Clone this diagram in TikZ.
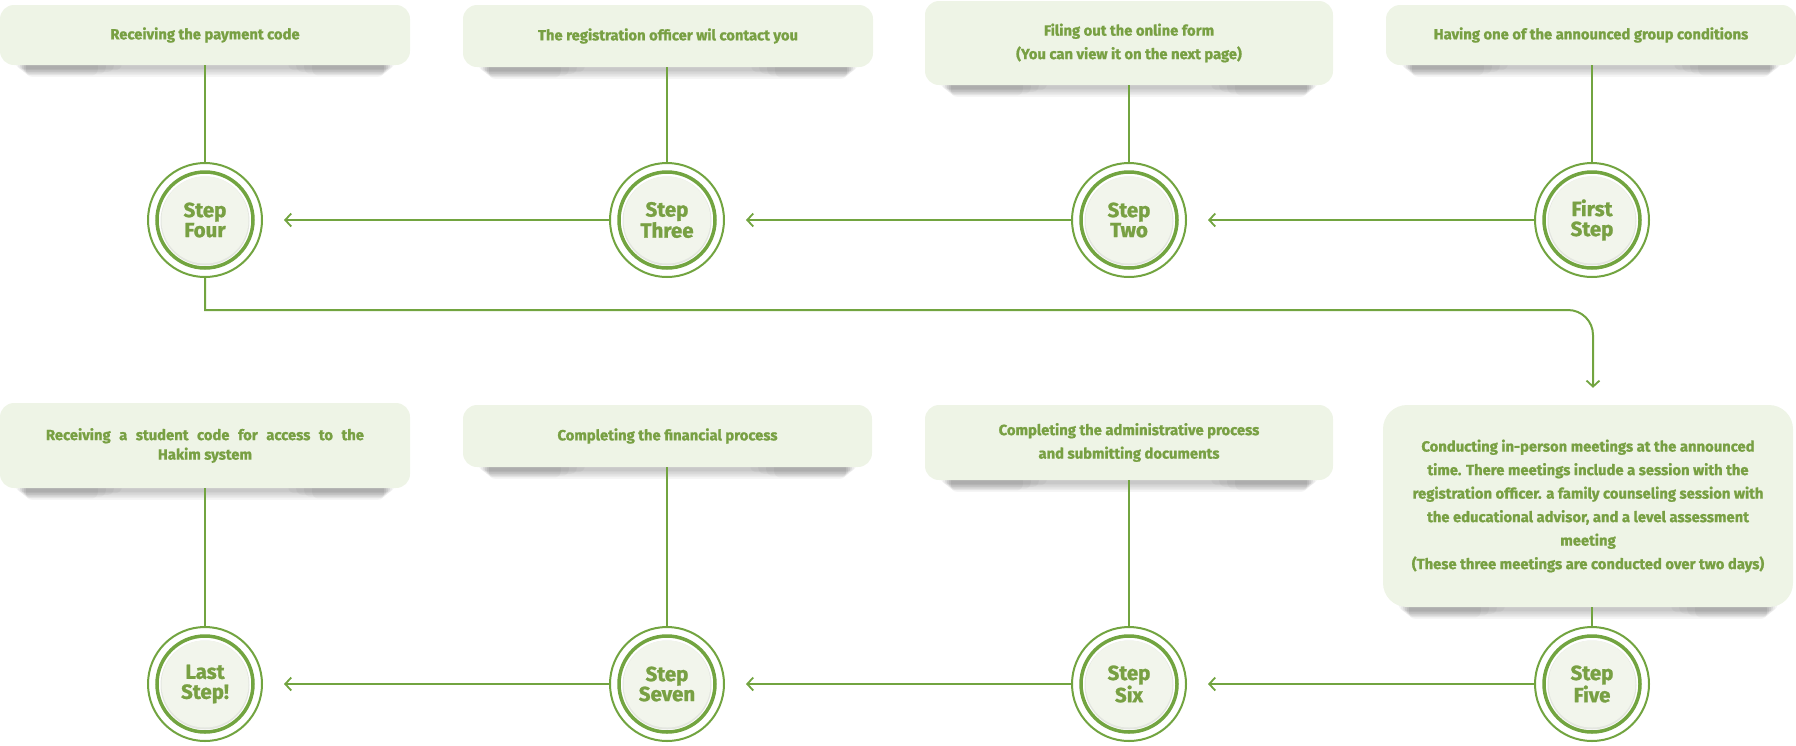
\documentclass[tikz,border=0pt]{standalone}
\usepackage{fontspec}
\setmainfont{Fira Sans}[BoldFeatures={FakeBold=1.2}]
\usetikzlibrary{arrows.meta,calc}
\definecolor{gstroke}{HTML}{72A440}
\definecolor{gtext}{HTML}{78A043}
\definecolor{boxfill}{HTML}{EEF4E6}
\definecolor{circfill}{HTML}{F2F5EC}
\definecolor{circshade}{HTML}{E4E6E0}
\pgfdeclarelayer{bg}
\pgfsetlayers{bg,main}
\newcommand\boxshade[1]{%
  \foreach \k in {1,...,6}{%
    \fill[black, opacity=0.04, rounded corners=6pt]
      ($(#1.south west)+(14+2*\k,-14)$) rectangle ($(#1.south east)+(-14-2*\k,2+1.6*\k)$);
  }%
  \foreach \k in {1,...,4}{%
    \fill[black, opacity=0.035, rounded corners=6pt]
      ($(#1.south west)+(18+2*\k,-14)$) rectangle ($(#1.south west)+(130-8*\k,3+1.8*\k)$);
    \fill[black, opacity=0.035, rounded corners=6pt]
      ($(#1.south east)+(-18-2*\k,-14)$) rectangle ($(#1.south east)+(-130+8*\k,3+1.8*\k)$);
  }}
\tikzset{
  infobox/.style={rounded corners=14pt, fill=boxfill, draw=none, text=gtext,
    font=\bfseries\fontsize{14.8}{23.5}\selectfont, align=center, inner sep=0pt},
  stepnode/.style={circle, minimum size=114pt, inner sep=0pt, draw=gstroke, line width=2pt,
    fill=white, text=gtext, font=\bfseries\fontsize{20.5}{20}\selectfont, align=center,
    path picture={
      \draw[gstroke, line width=3.5pt] (path picture bounding box.center) circle[radius=48pt];
      \fill[circshade] ([yshift=-1pt]path picture bounding box.center) circle[radius=44.5pt];
      \fill[circfill] (path picture bounding box.center) circle[radius=43.5pt];
    }},
  conn/.style={draw=gstroke, line width=2pt},
  arr/.style={conn, -{Straight Barb[length=6pt,width=13pt,line width=1.8pt]}}
}
\begin{document}
\begin{tikzpicture}[x=1pt,y=-1pt]
\useasboundingbox (0,0) rectangle (1796,745);
% boxes top row
\node[infobox, minimum width=410pt, minimum height=60pt] (b1) at (205,35) {Receiving the payment code};
\node[infobox, minimum width=410pt, minimum height=62pt] (b2) at (668,36) {The registration officer wil contact you};
\node[infobox, minimum width=408pt, minimum height=84pt] (b3) at (1129,43) {Filing out the online form\\(You can view it on the next page)};
\node[infobox, minimum width=410pt, minimum height=60pt] (b4) at (1591,35) {Having one of the announced group conditions};
% boxes bottom row
\node[infobox, minimum width=410pt, minimum height=85pt, font=\bfseries\fontsize{14.8}{19.5}\selectfont] (b8) at (205,445.5)
  {\makebox[318pt][s]{Receiving a student code for access to the}\\Hakim system};
\node[infobox, minimum width=409pt, minimum height=62pt] (b7) at (667.5,436) {Completing the financial process};
\node[infobox, minimum width=408pt, minimum height=75pt] (b6) at (1129,442.5) {Completing the administrative process\\and submitting documents};
\node[infobox, rounded corners=24pt, minimum width=410pt, minimum height=202pt] (b5) at (1588,506)
  {Conducting in-person meetings at the announced\\time. There meetings include a session with the\\registration officer. a family counseling session with\\the educational advisor, and a level assessment\\meeting\\(These three meetings are conducted over two days)};
% shadows
\begin{pgfonlayer}{bg}
  \boxshade{b1}\boxshade{b2}\boxshade{b3}\boxshade{b4}
  \boxshade{b5}\boxshade{b6}\boxshade{b7}\boxshade{b8}
\end{pgfonlayer}
% step circles
\node[stepnode] (s1) at (1592,220) {First\\Step};
\node[stepnode] (s2) at (1129,220) {Step\\Two};
\node[stepnode] (s3) at (667,220) {Step\\Three};
\node[stepnode] (s4) at (205,220) {Step\\Four};
\node[stepnode] (s5) at (1592,684) {Step\\Five};
\node[stepnode] (s6) at (1129,684) {Step\\Six};
\node[stepnode] (s7) at (667,684) {Step\\Seven};
\node[stepnode] (s8) at (205,684) {Last\\Step!};
% box to circle connectors
\draw[conn] (b1.south -| s4.north) -- (s4.north);
\draw[conn] (b2.south -| s3.north) -- (s3.north);
\draw[conn] (b3.south -| s2.north) -- (s2.north);
\draw[conn] (b4.south -| s1.north) -- (s1.north);
\draw[conn] (b5.south -| s5.north) -- (s5.north);
\draw[conn] (b6.south -| s6.north) -- (s6.north);
\draw[conn] (b7.south -| s7.north) -- (s7.north);
\draw[conn] (b8.south -| s8.north) -- (s8.north);
% horizontal arrows
\draw[arr, shorten >=21pt] (s1.west) -- (s2.east);
\draw[arr, shorten >=21pt] (s2.west) -- (s3.east);
\draw[arr, shorten >=21pt] (s3.west) -- (s4.east);
\draw[arr, shorten >=21pt] (s5.west) -- (s6.east);
\draw[arr, shorten >=21pt] (s6.west) -- (s7.east);
\draw[arr, shorten >=21pt] (s7.west) -- (s8.east);
% loop connector
\coordinate (mid) at (900,310);
\coordinate (turn) at (1593,310);
\draw[arr, shorten >=17pt] (s4.south) |- (mid) [rounded corners=25pt] -- (turn) -- (b5.north -| turn);
\end{tikzpicture}
\end{document}
